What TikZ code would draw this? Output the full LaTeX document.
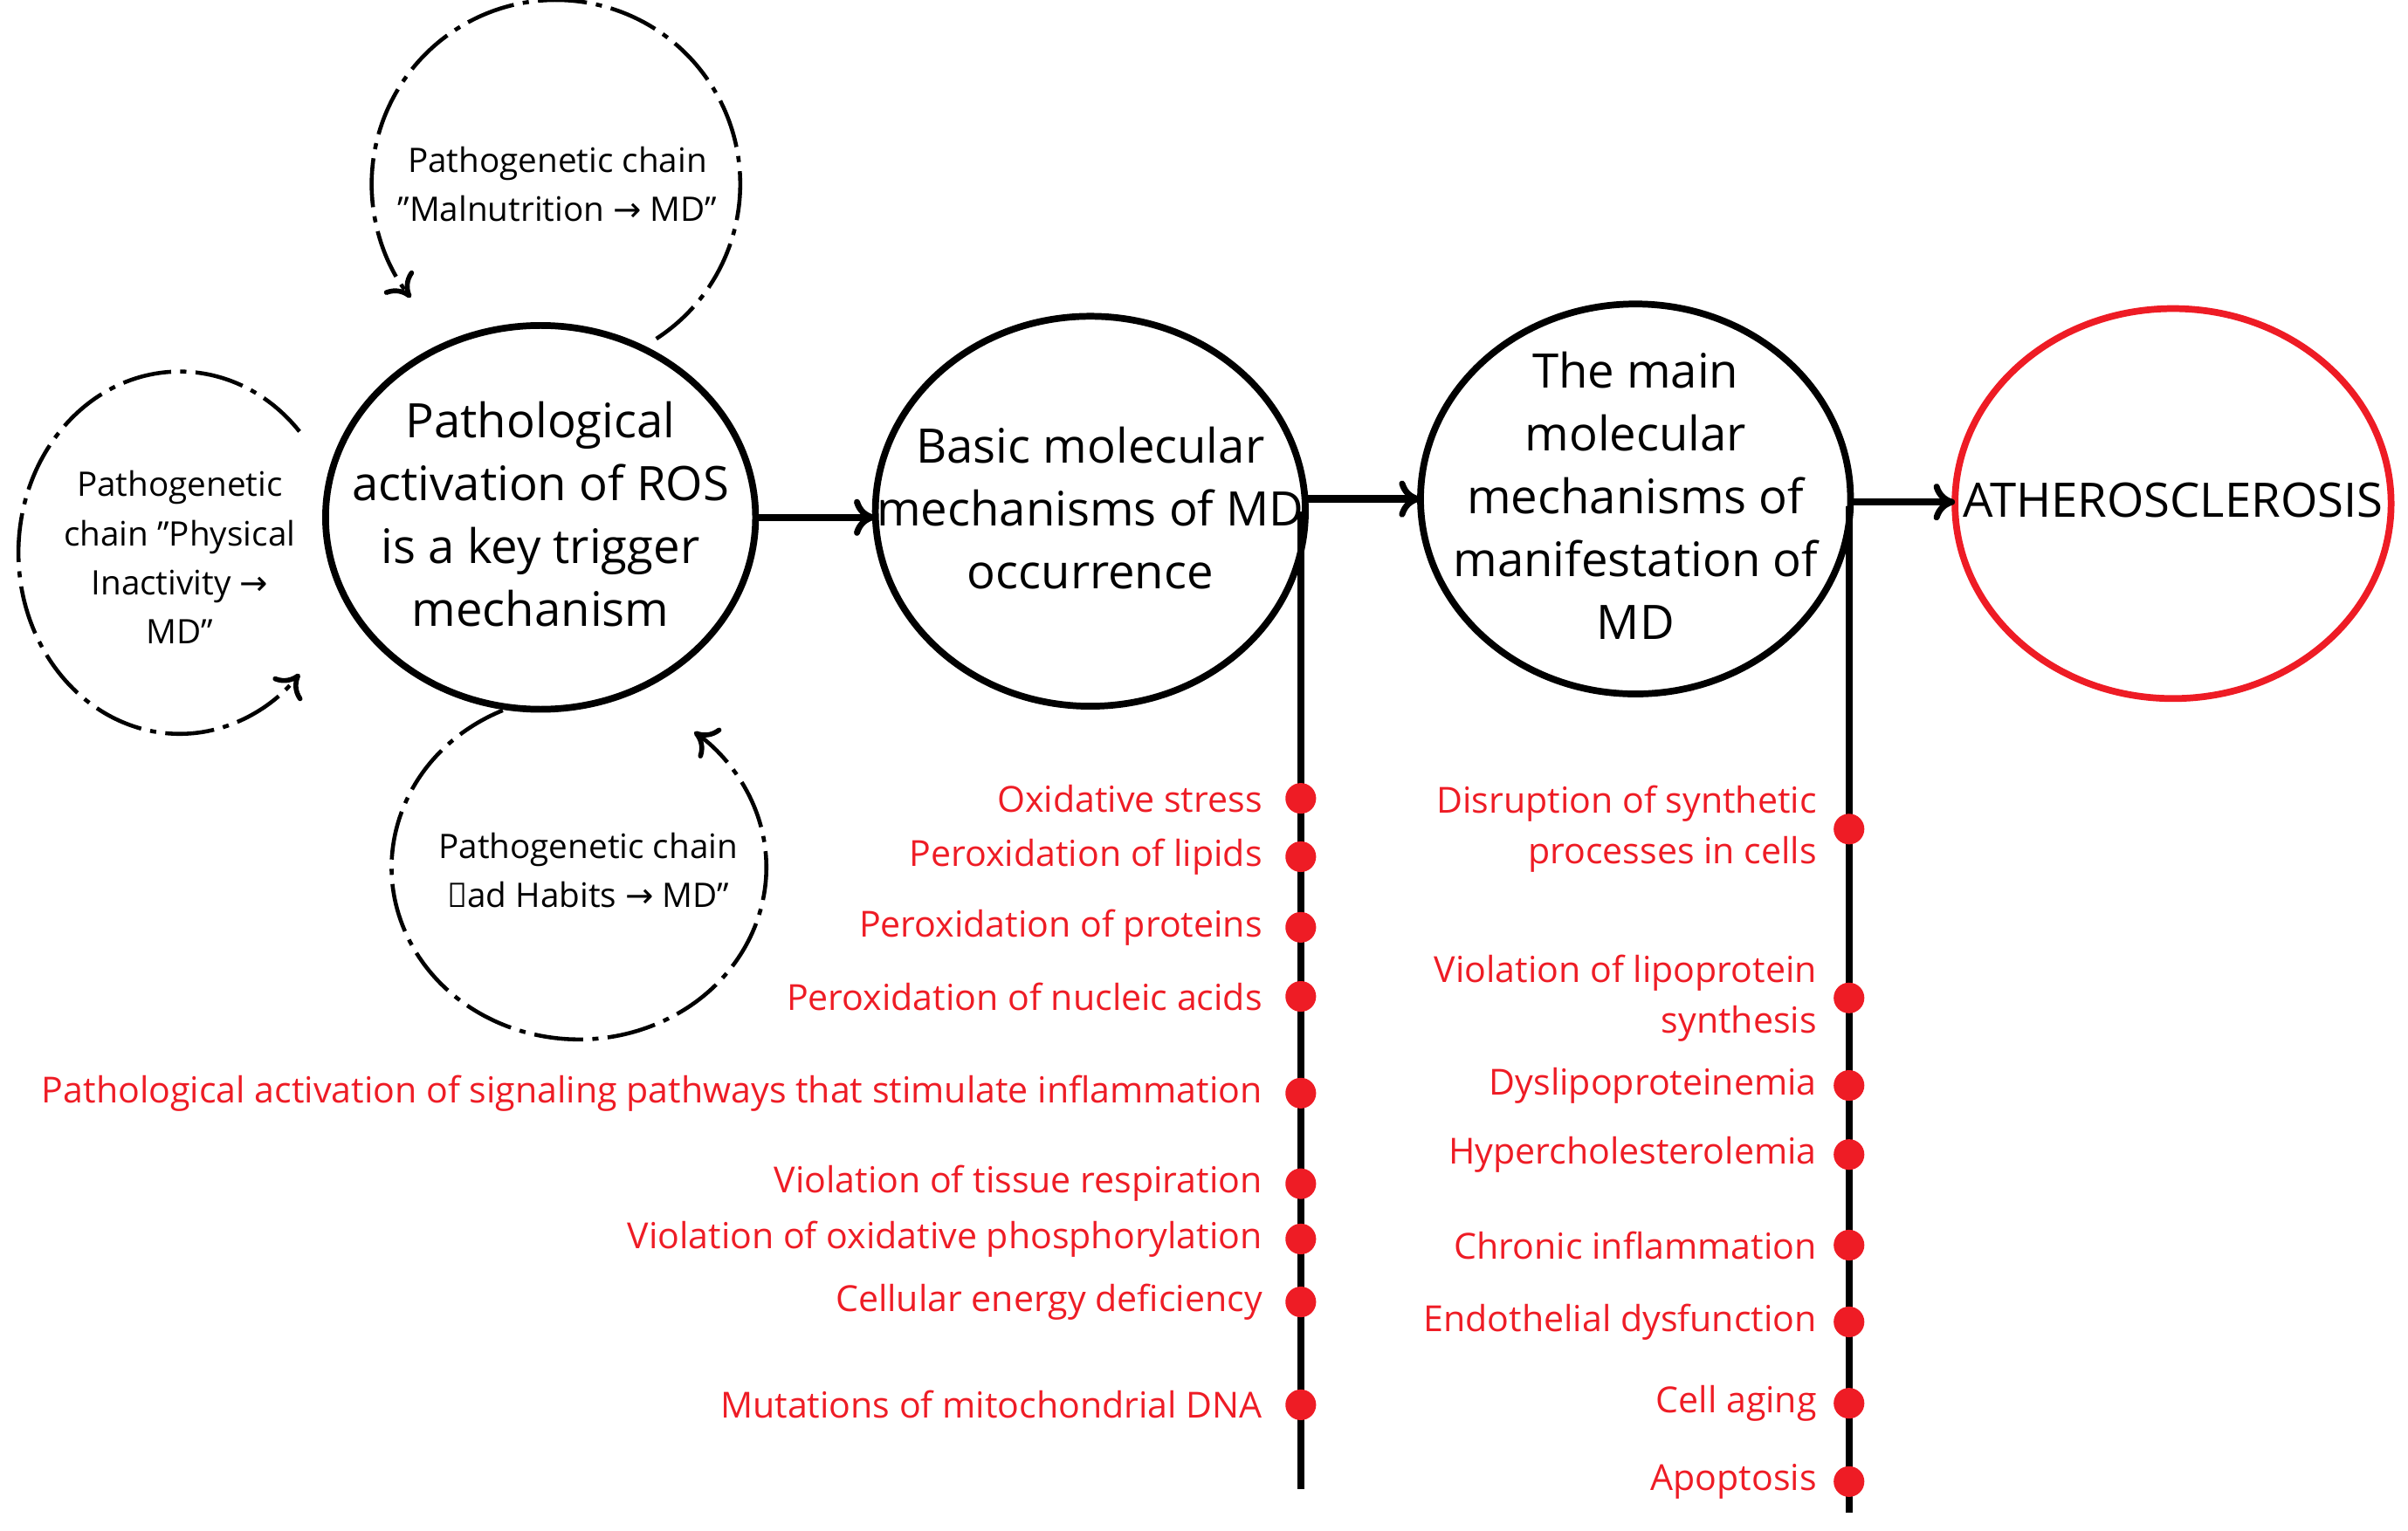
\documentclass[tikz,border=0pt]{standalone}
\usepackage{fontspec}
\setmainfont{Open Sans}
\newfontfamily\dvs{DejaVu Sans}
\usetikzlibrary{shapes.geometric,arrows.meta}
\definecolor{rd}{RGB}{238,28,37}
\newcommand{\rar}{{\dvs\char"2192}}
\newcommand{\qq}{\char"22}
\begin{document}
\begin{tikzpicture}[x=0.01759cm,y=0.01759cm,
 big/.style={align=center,font=\fontsize{15.5}{20.5}\selectfont,inner sep=0pt},
 ell/.style={line width=2.2pt},
 dsh/.style={line width=1.3pt,dash pattern=on 16pt off 3pt on 2pt off 3pt},
 arr/.style={line width=2.4pt,-{To[length=7pt,width=12pt,line width=2pt]}},
 darr/.style={-{To[length=7pt,width=12pt,line width=1.6pt]}},
 dot/.style={circle,fill=rd,inner sep=0pt,minimum size=10pt},
 lab/.style={text=rd,anchor=east,font=\fontsize{11.7}{16.5}\selectfont,align=right},
 sm/.style={align=center,font=\fontsize{11}{16}\selectfont}]
\useasboundingbox (0,0) rectangle (1568,-997);
\draw[ell] (352,-337) ellipse[x radius=140,y radius=125];
\draw[ell] (710,-333) ellipse[x radius=140,y radius=127];
\draw[ell] (1065,-325) ellipse[x radius=140,y radius=127];
\draw[ell,draw=rd] (1415,-328) ellipse[x radius=142,y radius=127];
\node[big] (A) at (352,-335) {Pathological\\activation of ROS\\is a key trigger\\mechanism};
\node[big] (B) at (710,-331) {Basic molecular\\mechanisms of MD\\occurrence};
\node[big] (C) at (1065,-323) {The main\\molecular\\mechanisms of\\manifestation of\\MD};
\node[big] (D) at (1415,-326) {ATHEROSCLEROSIS};
\coordinate (Ae) at (492,-337); \coordinate (Bw) at (570,-337);
\coordinate (Be) at (850,-325); \coordinate (Cw) at (925,-325);
\coordinate (Ce) at (1205,-327); \coordinate (Dw) at (1273,-327);
% dashed loops
\coordinate (t) at (362,-120);
\coordinate (l) at (117,-360);
\coordinate (b) at (377,-565);
\draw[dsh,darr] ([shift={(-57:120 and 120)}]t) arc[start angle=-57,end angle=218,x radius=120,y radius=120];
\draw[dsh,darr] ([shift={(42:105 and 118)}]l) arc[start angle=42,end angle=318,x radius=105,y radius=118];
\draw[dsh,darr] ([shift={(114:122 and 112)}]b) arc[start angle=114,end angle=412,x radius=122,y radius=112];
\node[sm] (tt) at (363,-120) {Pathogenetic chain\\\qq Malnutrition \rar\ MD\qq};
\node[sm] (lt) at (117,-363) {Pathogenetic\\chain \qq Physical\\Inactivity \rar\\MD\qq};
\node[sm] (bt) at (383,-567) {Pathogenetic chain\\\qq Bad Habits \rar\ MD\qq};
\draw[arr] (Ae) -- (Bw);
\draw[arr] (Be) -- (Cw);
\draw[arr] (Ce) -- (Dw);
\coordinate (b0) at (847,-333); \coordinate (b1) at (847,-970);
\coordinate (c0) at (1204,-330); \coordinate (c1) at (1204,-985);
\draw[line width=2.4pt] (b0) -- (b1);
\draw[line width=2.4pt] (c0) -- (c1);
\foreach \y/\t [count=\i] in {520/Oxidative stress,558/Peroxidation of lipids,604/Peroxidation of proteins,649/Peroxidation of nucleic acids,712/Pathological activation of signaling pathways that stimulate inflammation,771/Violation of tissue respiration,807/Violation of oxidative phosphorylation,848/Cellular energy deficiency,915/Mutations of mitochondrial DNA}{
 \node[dot] (bd\i) at (847,-\y) {};
 \node[lab] (bl\i) at (829,-\y) {\t};
}
\foreach \y/\t [count=\i] in {540/{Disruption of synthetic\\processes in cells},650/{Violation of lipoprotein\\synthesis},707/Dyslipoproteinemia,752/Hypercholesterolemia,811/Chronic inflammation,861/Endothelial dysfunction,914/Cell aging,965/Apoptosis}{
 \node[dot] (cd\i) at (1204,-\y) {};
 \node[lab] (cl\i) at (1190,-\y) {\t};
}
\end{tikzpicture}
\end{document}
